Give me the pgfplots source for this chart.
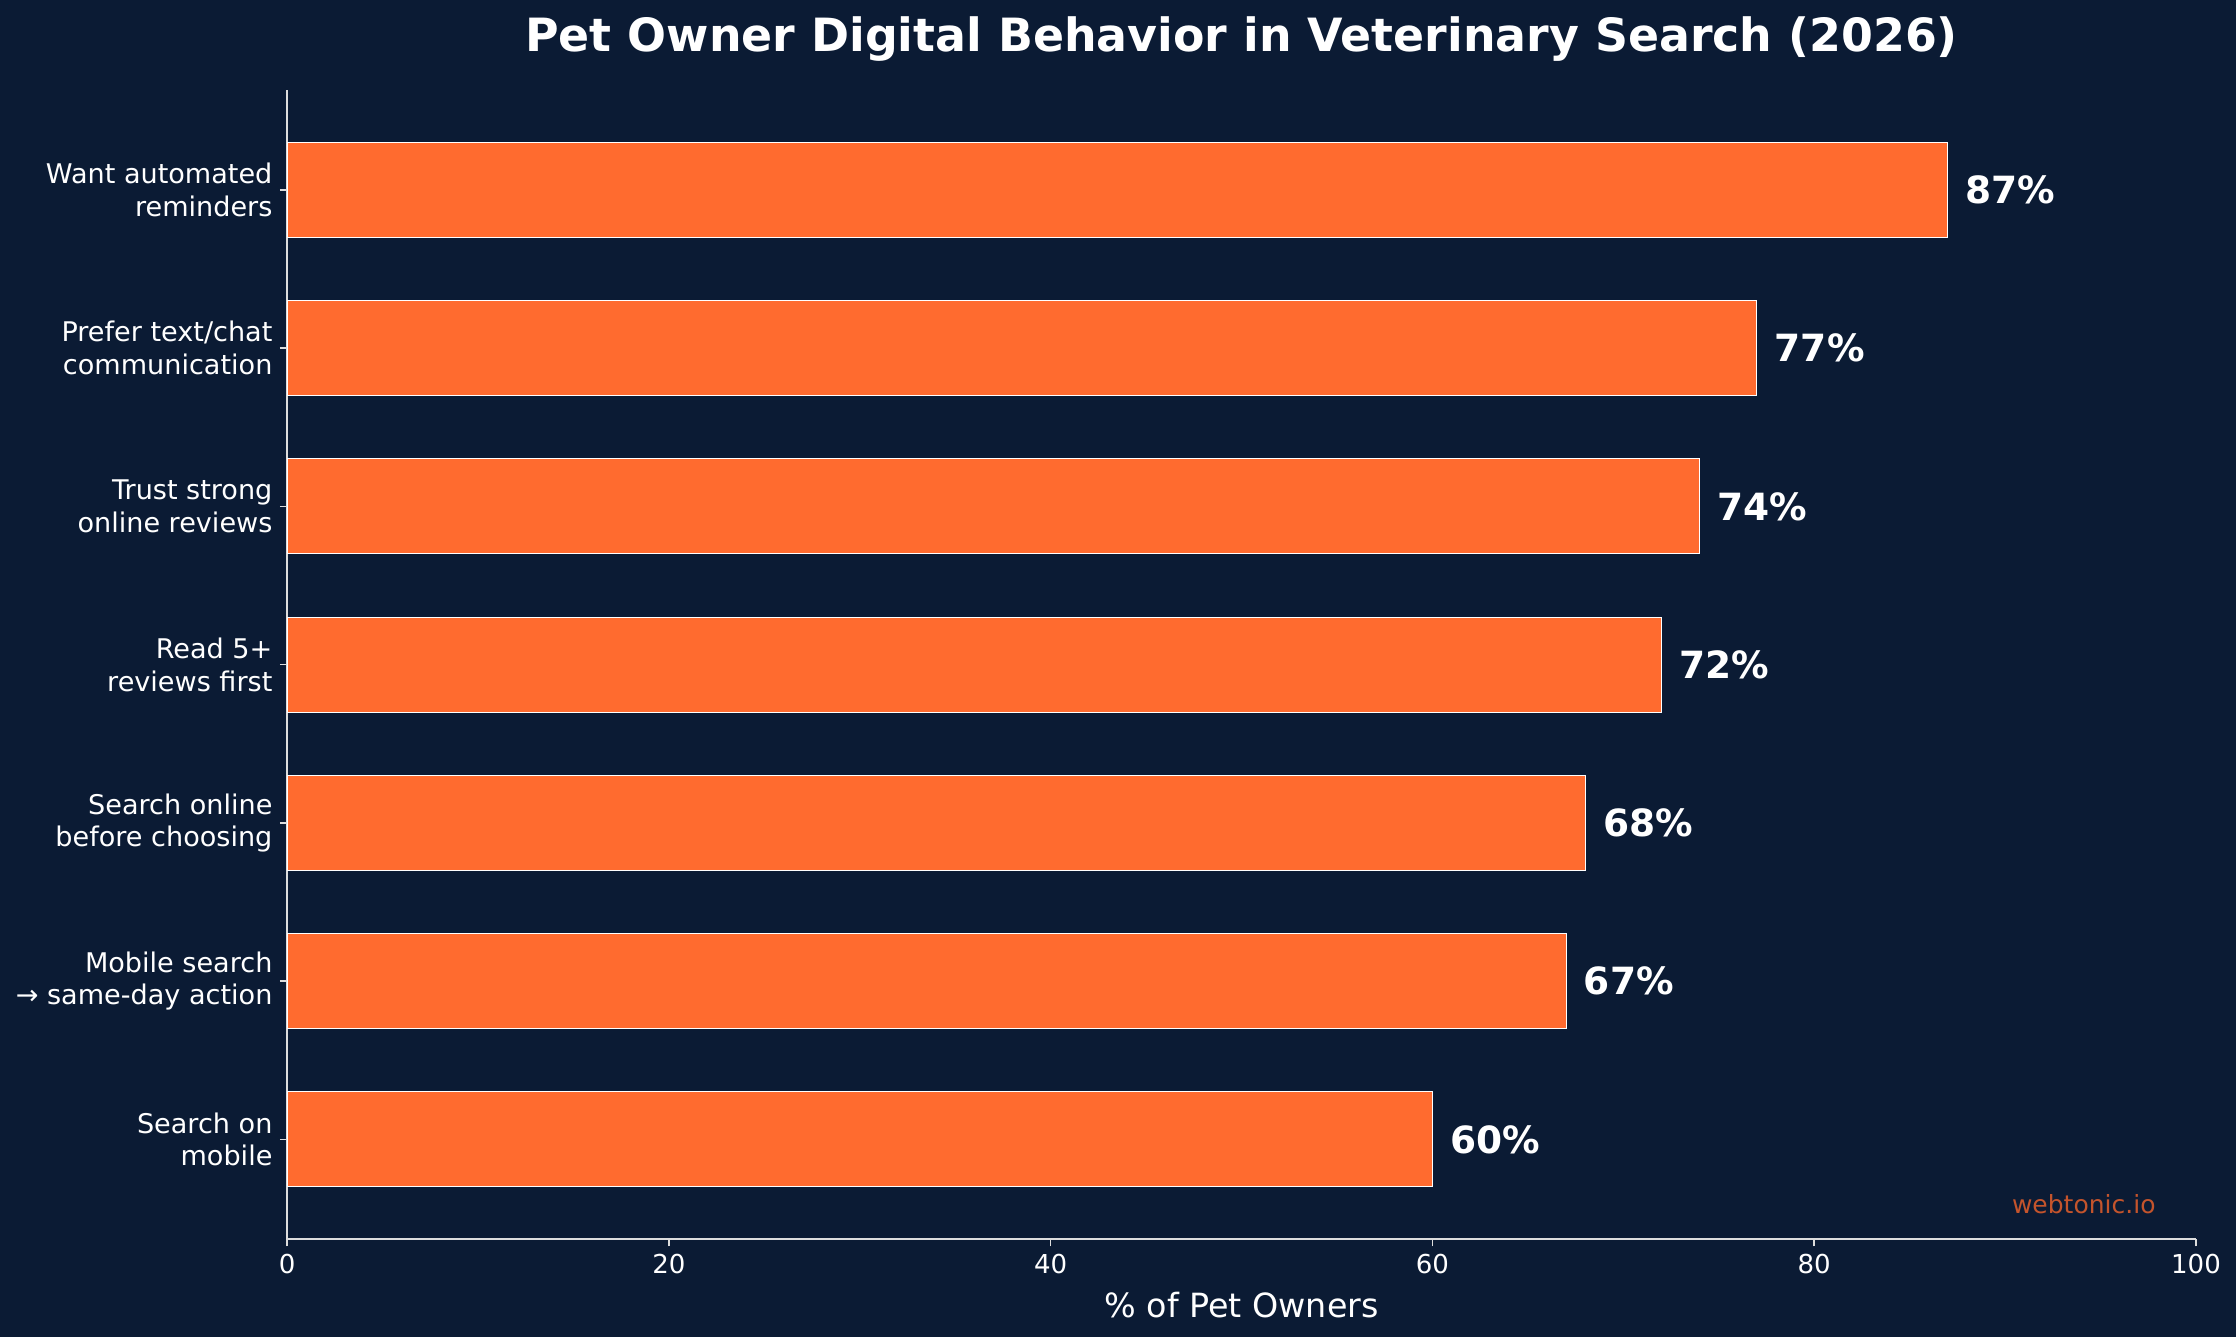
\documentclass[border=0pt]{standalone}
\usepackage{fontspec}
\setmainfont{DejaVu Sans}
\usepackage{pgfplots}
\pgfplotsset{compat=1.18}
\definecolor{bg}{HTML}{0B1B34}
\definecolor{barc}{HTML}{FF6B2F}
\definecolor{spine}{HTML}{DDDDDD}
\definecolor{wm}{HTML}{C4542C}
\begin{document}
\begin{tikzpicture}[x=1pt,y=1pt]
\fill[bg] (0,0) rectangle (1073.3,641.8);
\begin{axis}[
  at={(137.8pt,47pt)}, anchor=south west, scale only axis,
  width=916.3pt, height=551.5pt,
  xbar, bar width=0.6,
  xmin=0, xmax=100, ymin=-0.63, ymax=6.63,
  ytick={0,1,2,3,4,5,6},
  yticklabels={{Search on\\mobile},{Mobile search\\→ same-day action},{Search online\\before choosing},{Read 5+\\reviews first},{Trust strong\\online reviews},{Prefer text/chat\\communication},{Want automated\\reminders}},
  xtick={0,20,40,60,80,100},
  axis x line*=bottom, axis y line*=left,
  axis line style={spine, line width=0.8pt},
  tick style={spine, line width=0.8pt},
  major tick length=3.5pt, tick align=outside,
  /pgf/number format/assume math mode=true,
  x tick label style={font=\fontsize{12.5}{14}\selectfont, text=white},
  y tick label style={font=\fontsize{13}{15.6}\selectfont, text=white, align=right},
  xlabel={\% of Pet Owners},
  xlabel style={font=\fontsize{16}{19}\selectfont, text=white, yshift=-2pt},
  nodes near coords={\pgfmathprintnumber{\pgfplotspointmeta}\%},
  point meta=x,
  every node near coord/.append style={font=\bfseries\fontsize{18}{21}\selectfont, text=white, xshift=5pt},
  clip=false,
]
\addplot[fill=barc, draw=white, line width=0.5pt] coordinates {
(60,0) (67,1) (68,2) (72,3) (74,4) (77,5) (87,6)
};
\node[anchor=base, font=\bfseries\fontsize{22}{26}\selectfont, text=white] at (rel axis cs:0.5,1) [yshift=18.7pt] {Pet Owner Digital Behavior in Veterinary Search (2026)};
\node[anchor=base east, inner sep=0pt, font=\fontsize{12}{14}\selectfont, text=wm] at (rel axis cs:0.979,0.0226) {webtonic.io};
\end{axis}
\pgfresetboundingbox
\useasboundingbox (0,0) rectangle (1073.3,641.8);
\end{tikzpicture}
\end{document}
